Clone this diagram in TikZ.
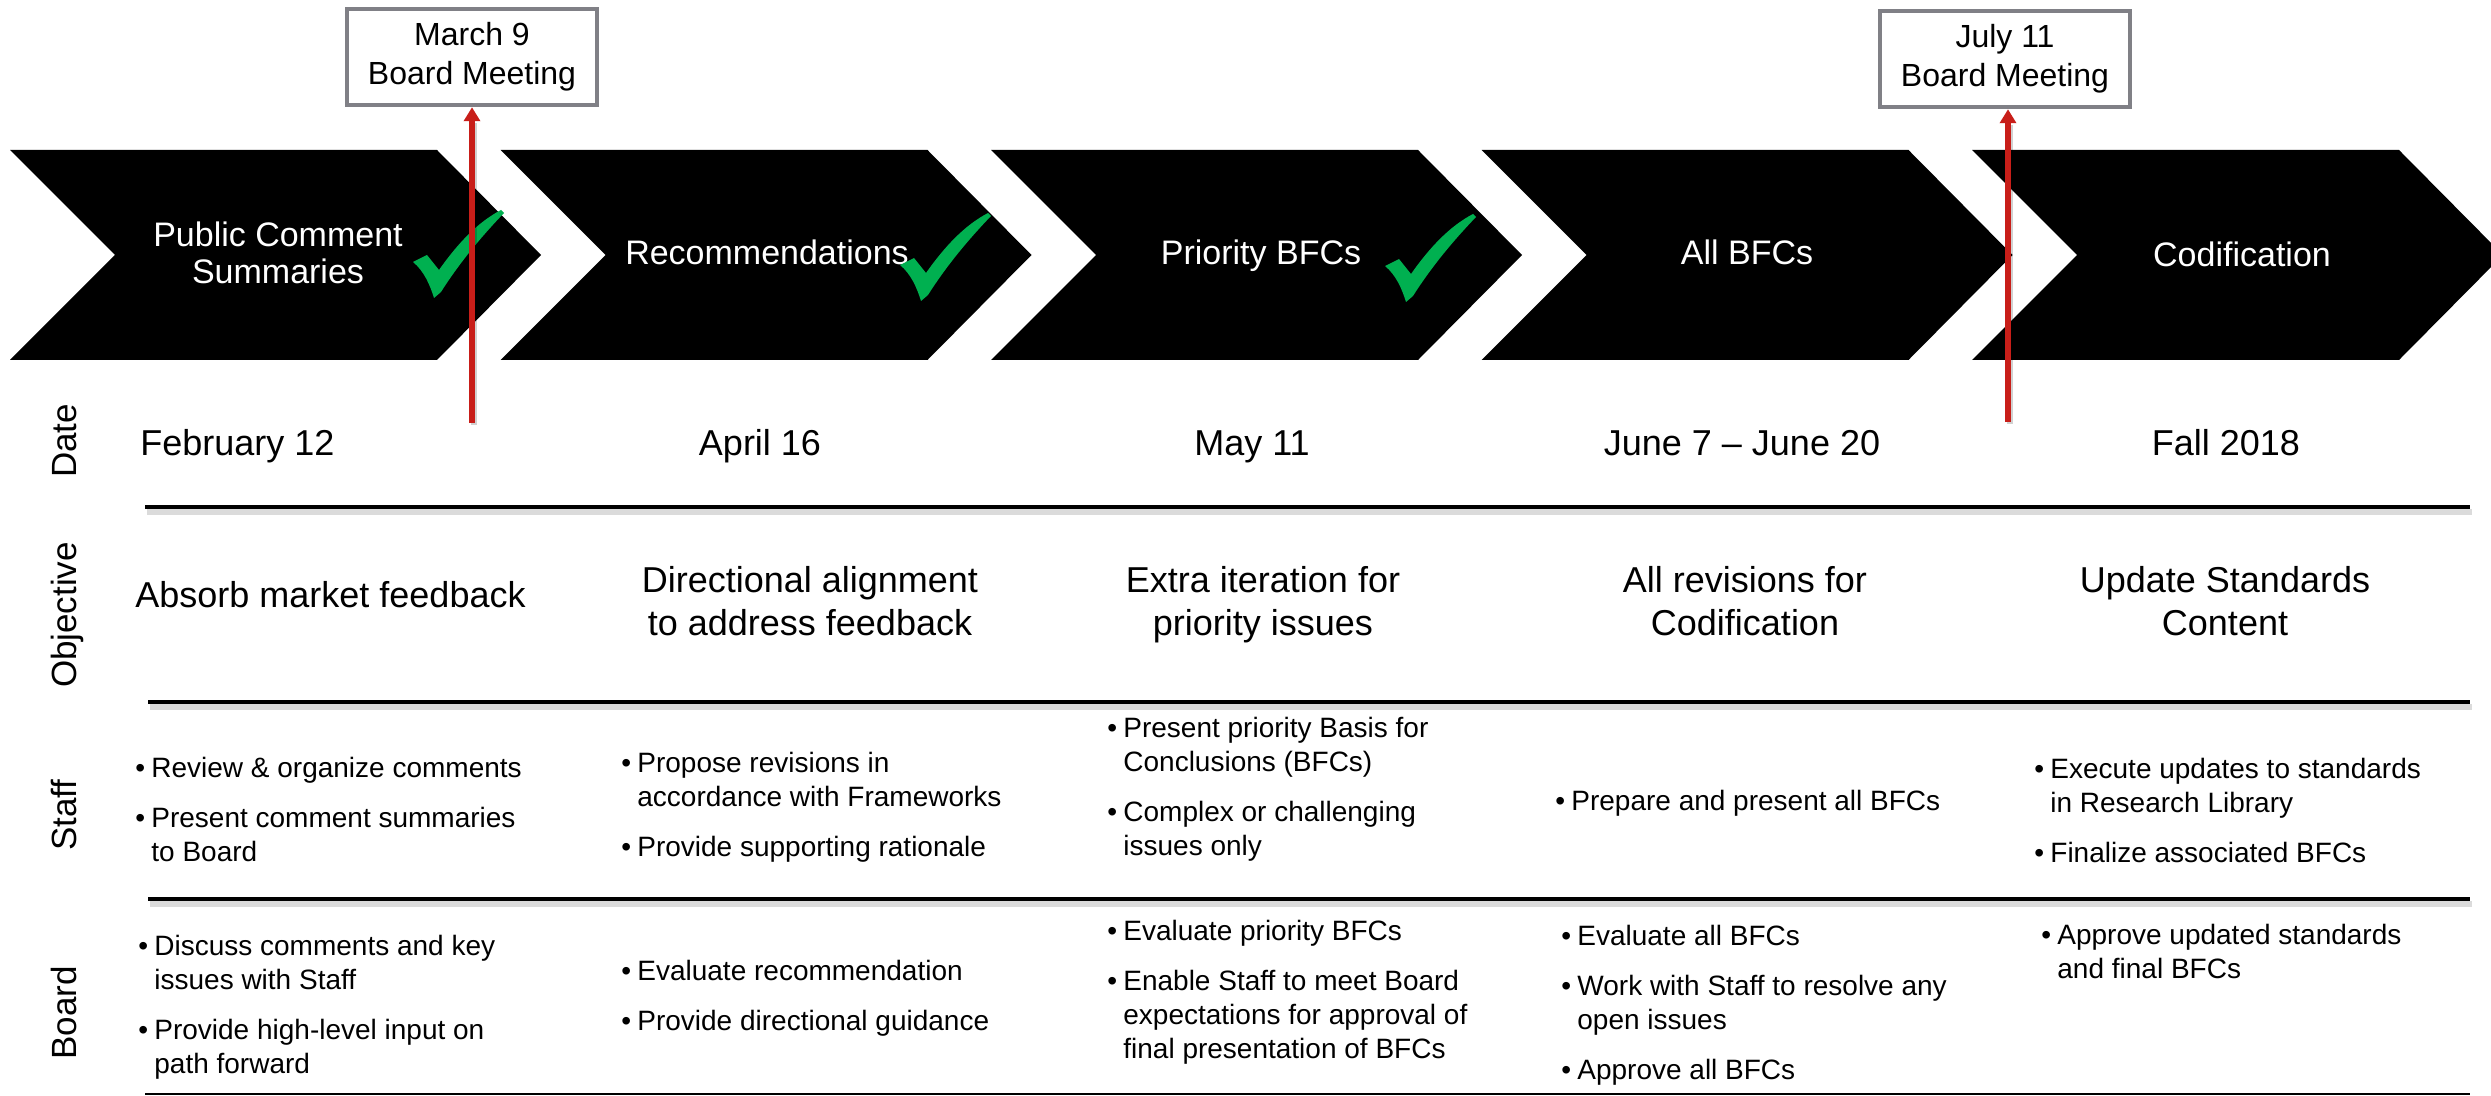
\documentclass[tikz,border=0pt]{standalone}
\usepackage{fontspec}
\setmainfont{Liberation Sans}
\usetikzlibrary{arrows.meta}
\definecolor{chkgreen}{RGB}{0,176,80}
\definecolor{mtgred}{RGB}{200,30,25}
\definecolor{boxgray}{RGB}{128,128,134}
\newcommand{\bul}{\makebox[8pt][l]{\textbullet}}
\newcommand{\ind}{\hspace*{8pt}}
\newcommand{\chevron}[1]{\fill[black] ({#1},150) -- ({#1+427},150) -- ({#1+531},255) -- ({#1+427},360) -- ({#1},360) -- ({#1+105},255) -- cycle;}
\newcommand{\greencheck}[2]{\fill[chkgreen, shift={(#1,#2)}] (413,262) -- (427,255) -- (439,270) .. controls (458,243) and (478,222) .. (501,210) -- (504,213) .. controls (482,236) and (460,262) .. (441,292) -- (434,298) .. controls (430,285) and (424,271) .. (413,262) -- cycle;}
\tikzset{
  chevlabel/.style={text=white, font=\fontsize{17pt}{18.5pt}\selectfont, inner sep=0pt, anchor=base},
  datelab/.style={font=\fontsize{18pt}{21pt}\selectfont, inner sep=0pt, anchor=base},
  objlab/.style={font=\fontsize{18pt}{21pt}\selectfont, inner sep=0pt, anchor=base},
  rowlab/.style={font=\fontsize{17.5pt}{21pt}\selectfont, inner sep=0pt, anchor=base, rotate=90},
  cell/.style={font=\fontsize{14pt}{17pt}\selectfont, inner sep=0pt, anchor=base west},
  mtgbox/.style={draw=boxgray, line width=2.25pt, fill=white, minimum width=125pt, minimum height=48pt, align=center, font=\fontsize{16pt}{19.5pt}\selectfont, inner sep=0pt},
  mtgarrow/.style={draw=mtgred, line width=2.6pt, -{Triangle[width=8pt,length=7pt]}},
  arrowshadow/.style={draw=black, opacity=0.18, line width=2.6pt},
  rule/.style={line width=2.4pt, black},
  ruleshadow/.style={line width=3pt, black!14},
  thinrule/.style={line width=1pt, black}
}
\begin{document}
\begin{tikzpicture}[x=0.5pt, y=-0.5pt]
\useasboundingbox (0,0) rectangle (2491,1096);
\fill[white] (0,0) rectangle (2491,1096);
% chevrons
\chevron{10}
\chevron{500.5}
\chevron{991}
\chevron{1481.5}
\chevron{1972}
% chevron labels
\node[chevlabel] (c1) at (278,247) {\parbox[t]{150pt}{\centering Public Comment\\Summaries}};
\node[chevlabel] (c2) at (767,265) {Recommendations};
\node[chevlabel] (c3) at (1261,265) {Priority BFCs};
\node[chevlabel] (c4) at (1747,265) {All BFCs};
\node[chevlabel] (c5) at (2242,267) {Codification};
% checks
\greencheck{0}{0}
\greencheck{487}{3}
\greencheck{972}{4}
% rules
\coordinate (l1a) at (145,507); \coordinate (l1b) at (2470,507);
\coordinate (l2a) at (148,702); \coordinate (l2b) at (2470,702);
\coordinate (l3a) at (148,899); \coordinate (l3b) at (2470,899);
\coordinate (l4a) at (145,1094); \coordinate (l4b) at (2470,1094);
\foreach \a/\b in {l1a/l1b, l2a/l2b, l3a/l3b}{
  \draw[ruleshadow] ([xshift=1pt,yshift=-2.5pt]\a) -- ([xshift=1pt,yshift=-2.5pt]\b);
  \draw[rule] (\a) -- (\b);
}
\draw[thinrule] (l4a) -- (l4b);
% row labels
\node[rowlab] (rDate) at (76,441) {Date};
\node[rowlab] (rObj) at (76,615) {Objective};
\node[rowlab] (rStaff) at (76,815) {Staff};
\node[rowlab] (rBoard) at (76,1013) {Board};
% dates
\node[datelab, anchor=base west] (d1) at (140,456) {February 12};
\node[datelab] (d2) at (760,456) {April 16};
\node[datelab] (d3) at (1252,456) {May 11};
\node[datelab] (d4) at (1742,456) {June 7 – June 20};
\node[datelab] (d5) at (2226,456) {Fall 2018};
% objectives
\node[objlab, anchor=base west] (o1) at (135,608) {Absorb market feedback};
\node[objlab] (o2) at (810,593) {\parbox[t]{260pt}{\centering Directional alignment\\to address feedback}};
\node[objlab] (o3) at (1263,593) {\parbox[t]{260pt}{\centering Extra iteration for\\priority issues}};
\node[objlab] (o4) at (1745,593) {\parbox[t]{260pt}{\centering All revisions for\\Codification}};
\node[objlab] (o5) at (2225,593) {\parbox[t]{260pt}{\centering Update Standards\\Content}};
% staff
\node[cell] (s1) at (135,777) {\parbox[t]{220pt}{\bul Review \& organize comments\\[8pt]\bul Present comment summaries\\\ind to Board}};
\node[cell] (s2) at (621,772) {\parbox[t]{220pt}{\bul Propose revisions in\\\ind accordance with Frameworks\\[8pt]\bul Provide supporting rationale}};
\node[cell] (s3) at (1107,737) {\parbox[t]{220pt}{\bul Present priority Basis for\\\ind Conclusions (BFCs)\\[8pt]\bul Complex or challenging\\\ind issues only}};
\node[cell] (s4) at (1555,810) {\parbox[t]{220pt}{\bul Prepare and present all BFCs}};
\node[cell] (s5) at (2034,778) {\parbox[t]{220pt}{\bul Execute updates to standards\\\ind in Research Library\\[8pt]\bul Finalize associated BFCs}};
% board
\node[cell] (b1) at (138,955) {\parbox[t]{220pt}{\bul Discuss comments and key\\\ind issues with Staff\\[8pt]\bul Provide high-level input on\\\ind path forward}};
\node[cell] (b2) at (621,980) {\parbox[t]{220pt}{\bul Evaluate recommendation\\[8pt]\bul Provide directional guidance}};
\node[cell] (b3) at (1107,940) {\parbox[t]{220pt}{\bul Evaluate priority BFCs\\[8pt]\bul Enable Staff to meet Board\\\ind expectations for approval of\\\ind final presentation of BFCs}};
\node[cell] (b4) at (1561,945) {\parbox[t]{220pt}{\bul Evaluate all BFCs\\[8pt]\bul Work with Staff to resolve any\\\ind open issues\\[8pt]\bul Approve all BFCs}};
\node[cell] (b5) at (2041,944) {\parbox[t]{220pt}{\bul Approve updated standards\\\ind and final BFCs}};
% meeting boxes and arrows
\node[mtgbox] (m1) at (472,57) {March 9\\Board Meeting};
\node[mtgbox] (m2) at (2005,59) {July 11\\Board Meeting};
\coordinate (r1) at (472,423);
\coordinate (r2) at (2008,422);
\draw[arrowshadow] ([xshift=1pt,yshift=-1pt]r1) -- ([xshift=1pt,yshift=-8pt]m1.south);
\draw[arrowshadow] ([xshift=1pt,yshift=-1pt]r2) -- ([xshift=1pt,yshift=-8pt]r2 |- m2.south);
\draw[mtgarrow] (r1) -- (m1.south);
\draw[mtgarrow] (r2) -- (r2 |- m2.south);
\end{tikzpicture}
\end{document}
